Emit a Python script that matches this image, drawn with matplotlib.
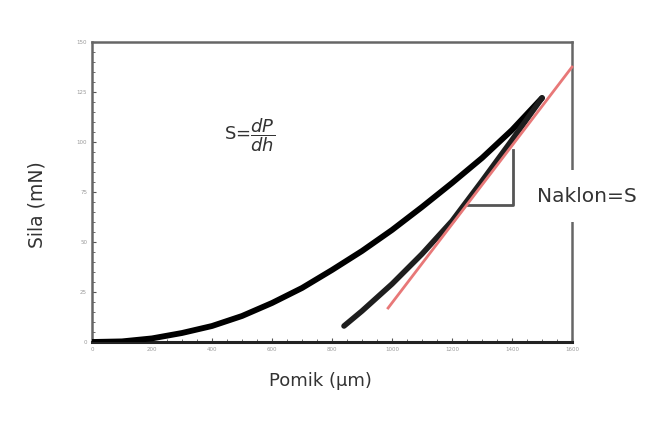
import numpy as np
import matplotlib.pyplot as plt
from matplotlib.ticker import MultipleLocator

# ucitavanje (loading) krivulja, procitano sa slike
load_h = [0, 100, 200, 300, 400, 500, 600, 700, 800, 900, 1000, 1100, 1200, 1300, 1400, 1500]
load_P = [0, 0.3, 1.8, 4.5, 8, 13, 19.5, 27, 36, 45.5, 56, 67.5, 79.5, 92, 106, 122]

# rasterecenje (unloading)
unload_h = [1500, 1400, 1300, 1200, 1100, 1000, 900, 840]
unload_P = [122, 101, 80.5, 60.5, 44, 29, 15.5, 8]

# tangenta (nagib S)
tan_h = [987, 1600]
tan_P = [17, 137.5]

# trokut nagiba
tri_h = [1253, 1403, 1403]
tri_P = [68.5, 68.5, 96]

x_ticks = [0, 200, 400, 600, 800, 1000, 1200, 1400, 1600]
y_ticks = [0, 25, 50, 75, 100, 125, 150]

fig = plt.figure(figsize=(6.49, 4.36), dpi=100)
ax = fig.add_axes([92/649, 1 - 342/436, 480/649, 300/436])

ax.plot(load_h, load_P, color='black', lw=4.2, solid_capstyle='round', zorder=3)
ax.plot(unload_h, unload_P, color='#1e1e1e', lw=4.0, solid_capstyle='round', zorder=3)
ax.plot(tan_h, tan_P, color='#e87878', lw=2, zorder=4, clip_on=False)
ax.plot(tri_h, tri_P, color='#555555', lw=2, zorder=2)

ax.set_xlim(0, 1600)
ax.set_ylim(0, 150)
ax.set_xticks(x_ticks)
ax.set_yticks(y_ticks)
ax.xaxis.set_minor_locator(MultipleLocator(50))
ax.yaxis.set_minor_locator(MultipleLocator(5))
ax.tick_params(which='both', direction='in', colors='#555555', labelsize=4,
               labelcolor='#999999')
ax.tick_params(which='major', length=3)
ax.tick_params(which='minor', length=2)
for side in ['top', 'right', 'left']:
    ax.spines[side].set_color('#666666')
    ax.spines[side].set_linewidth(1.8)
ax.spines['bottom'].set_color('#222222')
ax.spines['bottom'].set_linewidth(2.2)

ax.text(527, 103.5, r'S=$\dfrac{dP}{dh}$', fontsize=13, color='#333333',
        ha='center', va='center')

fig.text(587/649, 1 - 196/436, 'Naklon=S', fontsize=14.5, color='#333333',
         ha='center', va='center',
         bbox=dict(facecolor='white', edgecolor='none', pad=12))

fig.text(320/649, 1 - 381/436, 'Pomik (µm)', fontsize=13, color='#333333',
         ha='center', va='center')
fig.text(37/649, 1 - 205/436, 'Sila (mN)', fontsize=13.5, color='#333333',
         ha='center', va='center', rotation=90)

fig.savefig('out.png', dpi=100)
